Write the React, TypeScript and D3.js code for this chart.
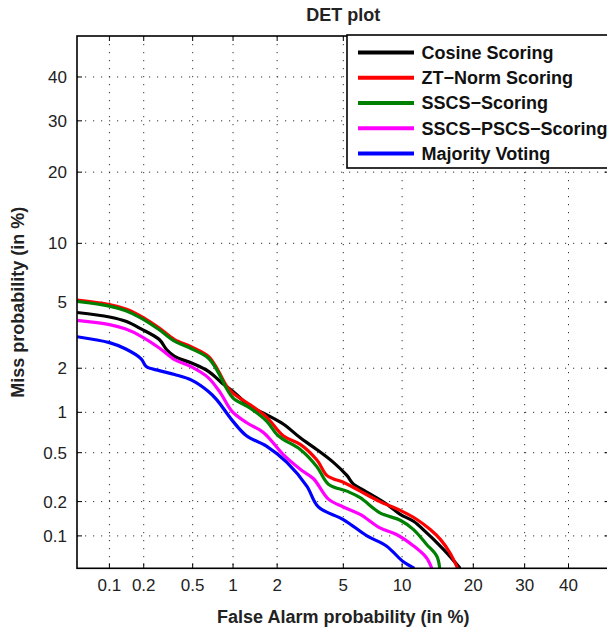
import React, { useEffect, useRef } from 'react';
import * as d3 from 'd3';

// tick values in percent, same on both axes
const tickValues = [0.1, 0.2, 0.5, 1, 2, 5, 10, 20, 30, 40];

const seriesNames = ['Cosine Scoring', 'ZT\u2212Norm Scoring', 'SSCS\u2212Scoring', 'SSCS\u2212PSCS\u2212Scoring', 'Majority Voting'];
const seriesColors = ['#000000', '#ff0000', '#008000', '#ff00ff', '#0000ff'];

// false alarm / miss in %
const cosineFA = [0.05, 0.1, 0.14, 0.19, 0.27, 0.31, 0.36, 0.49, 0.66, 0.83, 1.0, 1.32, 1.71, 2.2, 2.8, 3.52, 4.4, 5.23, 5.68, 6.42, 8.44, 9.8, 11.3, 12.9, 14.3, 15.9, 17.8];
const cosineMiss = [4.37, 4.12, 3.89, 3.51, 3.03, 2.63, 2.38, 2.16, 1.91, 1.6, 1.4, 1.1, 0.96, 0.82, 0.65, 0.53, 0.42, 0.33, 0.28, 0.25, 0.19, 0.155, 0.135, 0.107, 0.087, 0.068, 0.05];

const ztnormFA = [0.05, 0.1, 0.14, 0.19, 0.27, 0.36, 0.49, 0.66, 0.76, 0.9, 1.0, 1.32, 1.71, 2.2, 2.8, 3.52, 4.03, 4.38, 5.0, 6.17, 7.8, 9.8, 11.7, 13.4, 14.8, 16.2, 17.4];
const ztnormMiss = [5.13, 4.84, 4.57, 4.15, 3.55, 3.03, 2.73, 2.38, 2.01, 1.52, 1.36, 1.13, 0.92, 0.67, 0.58, 0.44, 0.33, 0.31, 0.29, 0.245, 0.2, 0.168, 0.14, 0.114, 0.093, 0.07, 0.05];

const sscsFA = [0.05, 0.1, 0.14, 0.19, 0.27, 0.36, 0.49, 0.66, 0.76, 0.9, 1.0, 1.32, 1.71, 1.99, 2.2, 2.8, 3.52, 4.12, 5.23, 6.17, 7.8, 9.8, 11.3, 12.9, 14.3, 14.7];
const sscsMiss = [5.05, 4.75, 4.47, 4.06, 3.47, 2.96, 2.66, 2.32, 1.96, 1.46, 1.26, 1.07, 0.86, 0.69, 0.63, 0.53, 0.39, 0.28, 0.245, 0.216, 0.16, 0.138, 0.114, 0.084, 0.065, 0.05];

const pscsFA = [0.05, 0.1, 0.14, 0.19, 0.27, 0.36, 0.49, 0.66, 0.81, 0.98, 1.25, 1.63, 2.2, 2.8, 3.37, 4.12, 5.0, 6.17, 7.8, 9.4, 11.3, 12.9, 13.6];
const pscsMiss = [3.94, 3.72, 3.5, 3.17, 2.69, 2.27, 2.04, 1.73, 1.37, 1.02, 0.84, 0.71, 0.48, 0.37, 0.31, 0.21, 0.18, 0.155, 0.118, 0.103, 0.081, 0.063, 0.05];

const votingFA = [0.05, 0.1, 0.14, 0.19, 0.21, 0.27, 0.36, 0.49, 0.66, 0.76, 1.0, 1.25, 1.71, 2.31, 3.07, 3.6, 5.0, 6.7, 8.4, 10.1, 11.4];
const votingMiss = [3.15, 2.9, 2.65, 2.3, 2.05, 1.93, 1.82, 1.67, 1.4, 1.23, 0.86, 0.67, 0.56, 0.42, 0.27, 0.18, 0.14, 0.1, 0.081, 0.058, 0.05];

// inverse normal cdf (Acklam)
function probit(p: number) {
  const a = [-39.69683028665376, 220.9460984245205, -275.9285104469687, 138.357751867269, -30.66479806614716, 2.506628277459239];
  const b = [-54.47609879822406, 161.5858368580409, -155.6989798598866, 66.80131188771972, -13.28068155288572];
  const c = [-0.007784894002430293, -0.3223964580411365, -2.400758277161838, -2.549732539343734, 4.374664141464968, 2.938163982698783];
  const d = [0.007784695709041462, 0.3224671290700398, 2.445134137142996, 3.754408661907416];
  const pl = 0.02425;
  if (p < pl) {
    const q = Math.sqrt(-2 * Math.log(p));
    return (((((c[0] * q + c[1]) * q + c[2]) * q + c[3]) * q + c[4]) * q + c[5]) / ((((d[0] * q + d[1]) * q + d[2]) * q + d[3]) * q + 1);
  }
  if (p > 1 - pl) {
    const q = Math.sqrt(-2 * Math.log(1 - p));
    return -(((((c[0] * q + c[1]) * q + c[2]) * q + c[3]) * q + c[4]) * q + c[5]) / ((((d[0] * q + d[1]) * q + d[2]) * q + d[3]) * q + 1);
  }
  const q = p - 0.5;
  const r = q * q;
  return (((((a[0] * r + a[1]) * r + a[2]) * r + a[3]) * r + a[4]) * r + a[5]) * q / (((((b[0] * r + b[1]) * r + b[2]) * r + b[3]) * r + b[4]) * r + 1);
}

const W = 607;
const H = 632;
const left = 77;
const right = 609.5;
const top = 36;
const bottom = 568.3;
const font = '"Liberation Sans", Arial, Helvetica, sans-serif';

export default function App() {
  const ref = useRef<SVGSVGElement>(null);

  useEffect(() => {
    const svg = d3.select(ref.current);
    svg.selectAll('*').remove();

    const zx = d3.scaleLinear().domain([probit(0.0005), probit(0.5)]).range([left, right]);
    const zy = d3.scaleLinear().domain([probit(0.0005), probit(0.5)]).range([bottom, top]);
    const x = (v: number) => zx(probit(v / 100));
    const y = (v: number) => zy(probit(v / 100));

    svg.append('rect').attr('width', W).attr('height', H).attr('fill', '#fff');

    svg.append('defs').append('clipPath').attr('id', 'plotclip')
      .append('rect').attr('x', left).attr('y', top).attr('width', right - left).attr('height', bottom - top);

    // grid
    const grid = svg.append('g').attr('stroke', '#333').attr('stroke-width', 1).attr('stroke-dasharray', '1.2 6.8');
    grid.selectAll('line.vx').data(tickValues).enter().append('line')
      .attr('x1', d => x(d)).attr('x2', d => x(d)).attr('y1', top).attr('y2', bottom);
    grid.selectAll('line.hy').data(tickValues).enter().append('line')
      .attr('y1', d => y(d)).attr('y2', d => y(d)).attr('x1', left).attr('x2', right);

    // ticks (inward, all four sides)
    const tl = 5;
    const ticks = svg.append('g').attr('stroke', '#000').attr('stroke-width', 1);
    tickValues.forEach(t => {
      ticks.append('line').attr('x1', x(t)).attr('x2', x(t)).attr('y1', bottom).attr('y2', bottom - tl);
      ticks.append('line').attr('x1', x(t)).attr('x2', x(t)).attr('y1', top).attr('y2', top + tl);
      ticks.append('line').attr('y1', y(t)).attr('y2', y(t)).attr('x1', left).attr('x2', left + tl);
      ticks.append('line').attr('y1', y(t)).attr('y2', y(t)).attr('x1', right).attr('x2', right - tl);
    });

    // curves
    const series = [
      [cosineFA, cosineMiss],
      [ztnormFA, ztnormMiss],
      [sscsFA, sscsMiss],
      [pscsFA, pscsMiss],
      [votingFA, votingMiss],
    ];
    const line = d3.line<[number, number]>().x(d => x(d[0])).y(d => y(d[1])).curve(d3.curveCatmullRom.alpha(0.5));
    const curves = svg.append('g').attr('clip-path', 'url(#plotclip)');
    series.forEach(([fa, miss], i) => {
      const pts = fa.map((f, j) => [f, miss[j]] as [number, number]);
      curves.append('path').datum(pts).attr('d', line)
        .attr('fill', 'none').attr('stroke', seriesColors[i]).attr('stroke-width', 3.2)
        .attr('stroke-linejoin', 'round');
    });

    // axes box
    svg.append('rect').attr('x', left).attr('y', top).attr('width', right - left).attr('height', bottom - top)
      .attr('fill', 'none').attr('stroke', '#000').attr('stroke-width', 1.6);

    // tick labels
    svg.append('g').selectAll('text').data(tickValues).enter().append('text')
      .attr('x', d => x(d)).attr('y', 591).attr('text-anchor', 'middle')
      .attr('font-family', font).attr('font-size', 17).attr('fill', '#222')
      .text(d => String(d));
    svg.append('g').selectAll('text').data(tickValues).enter().append('text')
      .attr('x', 67).attr('y', d => y(d)).attr('dy', '0.36em').attr('text-anchor', 'end')
      .attr('font-family', font).attr('font-size', 17).attr('fill', '#222')
      .text(d => String(d));

    // titles
    svg.append('text').attr('x', (left + right) / 2).attr('y', 21).attr('text-anchor', 'middle')
      .attr('font-family', font).attr('font-size', 18).attr('font-weight', 'bold').attr('fill', '#222')
      .text('DET plot');
    svg.append('text').attr('x', (left + right) / 2).attr('y', 623).attr('text-anchor', 'middle')
      .attr('font-family', font).attr('font-size', 18).attr('font-weight', 'bold').attr('fill', '#222')
      .text('False Alarm probability (in %)');
    svg.append('text').attr('transform', `translate(24,${(top + bottom) / 2}) rotate(-90)`).attr('text-anchor', 'middle')
      .attr('font-family', font).attr('font-size', 18).attr('font-weight', 'bold').attr('fill', '#222')
      .text('Miss probability (in %)');

    // legend
    const lg = svg.append('g');
    lg.append('rect').attr('x', 347).attr('y', 35).attr('width', 300).attr('height', 133)
      .attr('fill', '#fff').attr('stroke', '#000').attr('stroke-width', 1.6);
    seriesNames.forEach((name, i) => {
      const ry = 52.6 + i * 25.2;
      lg.append('line').attr('x1', 358).attr('x2', 414).attr('y1', ry).attr('y2', ry)
        .attr('stroke', seriesColors[i]).attr('stroke-width', 4);
      lg.append('text').attr('x', 421.5).attr('y', ry).attr('dy', '0.36em')
        .attr('font-family', font).attr('font-size', 18).attr('font-weight', 'bold').attr('fill', '#111')
        .text(name);
    });
  }, []);

  return (
    <svg ref={ref} width={W} height={H} style={{ position: 'absolute', left: 0, top: 0, display: 'block' }} />
  );
}
